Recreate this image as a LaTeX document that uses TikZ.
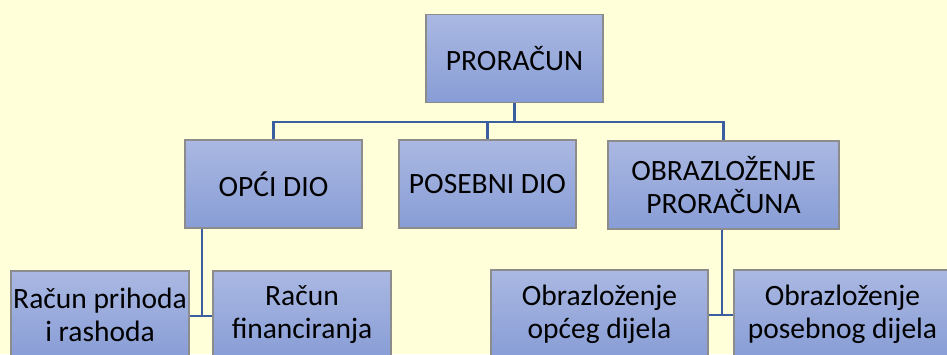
\documentclass[tikz,border=0pt]{standalone}
\usepackage{fontspec}
\setmainfont{Carlito}
\definecolor{bgyellow}{RGB}{255,255,217}
\definecolor{boxtop}{RGB}{170,184,226}
\definecolor{boxbot}{RGB}{136,157,214}
\definecolor{boxline}{RGB}{140,140,140}
\definecolor{linkblue}{RGB}{58,94,160}
\tikzset{
  unit/.style={draw=boxline, line width=1.2pt, top color=boxtop, bottom color=boxbot,
    inner sep=0pt, align=center, minimum height=88pt,
    font=\fontsize{29.5}{33}\selectfont},
  link/.style={draw=linkblue, line width=2.8pt}
}
\begin{document}
\begin{tikzpicture}[x=1pt, y=-1pt]
      \fill[bgyellow] (0,0) rectangle (947,354);
      \useasboundingbox (0,0) rectangle (947,354);
      \clip (0,0) rectangle (947,354);
      \draw
        (514.5,58.5) node[unit, minimum width=177pt] (root){PRORAČUN}
        (273.5,184) node[unit, minimum width=177pt] (opci){OPĆI DIO}
        (487.5,184) node[unit, minimum width=177pt] (posebni){POSEBNI DIO}
        (723.5,185) node[unit, minimum width=231pt] (obraz){OBRAZLOŽENJE\\PRORAČUNA}
        (100,315) node[unit, minimum width=178pt] (rph){Račun prihoda\\i rashoda}
        (302,315) node[unit, minimum width=178pt] (rfin){Račun\\financiranja}
        (599.5,314) node[unit, minimum width=217pt] (oopci){Obrazloženje\\općeg dijela}
        (842.5,314) node[unit, minimum width=217pt] (oposeb){Obrazloženje\\posebnog dijela};
      \coordinate (bus) at (0,122);
      \coordinate (j1) at (202,316);
      \coordinate (j2) at (722,315);
      \begin{scope}[link]
        \draw (root.south) to (root.south |- bus);
        \draw (opci.north) -- (opci.north |- bus) -- (obraz.north |- bus) -- (obraz.north);
        \draw (posebni.north) to (posebni.north |- bus);
        \draw (opci.south -| j1) to (j1);
        \draw (rph.east |- j1) to (rfin.west |- j1);
        \draw (obraz.south -| j2) to (j2);
        \draw (oopci.east |- j2) to (oposeb.west |- j2);
      \end{scope}
    \end{tikzpicture}
\end{document}
